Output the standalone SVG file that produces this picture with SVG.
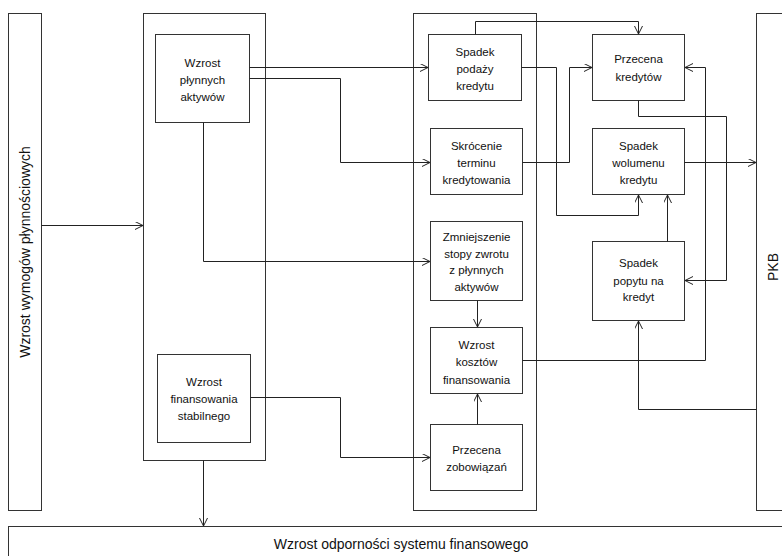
<svg xmlns="http://www.w3.org/2000/svg" width="782" height="556" viewBox="0 0 782 556">
<style>
.box{fill:#fff;stroke:#333;stroke-width:1}
.t{font-family:"Liberation Sans",Arial,sans-serif;font-size:11.5px;fill:#111;text-anchor:middle}
.big{font-family:"Liberation Sans",Arial,sans-serif;font-size:14px;fill:#111;text-anchor:middle}
.c{fill:none;stroke:#222;stroke-width:1}
</style>
<defs>
<marker id="a" markerUnits="userSpaceOnUse" markerWidth="10" markerHeight="10" refX="8" refY="4" orient="auto">
<path d="M0,0 L8,4 L0,8" fill="none" stroke="#222" stroke-width="1"/>
</marker>
</defs>
<rect width="782" height="556" fill="#fff"/>

<g id="n-wymogi"><rect class="box" x="8.5" y="13.5" width="33" height="497"/>
<text class="big" transform="translate(30,252) rotate(-90)">Wzrost wymogów płynnościowych</text></g>

<g id="n-bank"><rect class="box" x="143.5" y="13.5" width="122" height="447"/></g>
<g id="n-kanal"><rect class="box" x="413.5" y="13.5" width="123" height="497"/></g>

<g id="n-pkb"><rect class="box" x="756.5" y="13.5" width="40" height="497"/>
<text class="big" transform="translate(778,267) rotate(-90)">PKB</text></g>

<g id="n-odpornosc"><rect class="box" x="8.5" y="526.5" width="790" height="40"/>
<text class="big" x="401" y="549">Wzrost odporności systemu finansowego</text></g>

<g id="n-aktywa"><rect class="box" x="155.5" y="34.5" width="94" height="88"/>
<text class="t" x="202.5" y="67">Wzrost</text><text class="t" x="202.5" y="84">płynnych</text><text class="t" x="202.5" y="101">aktywów</text></g>

<g id="n-stabilne"><rect class="box" x="157.5" y="354.5" width="93" height="88"/>
<text class="t" x="204" y="386">Wzrost</text><text class="t" x="204" y="403">finansowania</text><text class="t" x="204" y="420">stabilnego</text></g>

<g id="n-podaz"><rect class="box" x="428.5" y="34.5" width="93" height="66"/>
<text class="t" x="475" y="56">Spadek</text><text class="t" x="475" y="73">podaży</text><text class="t" x="475" y="90">kredytu</text></g>

<g id="n-termin"><rect class="box" x="430.5" y="128.5" width="92" height="66"/>
<text class="t" x="476.5" y="150">Skrócenie</text><text class="t" x="476.5" y="167">terminu</text><text class="t" x="476.5" y="184">kredytowania</text></g>

<g id="n-stopa"><rect class="box" x="430.5" y="221.5" width="92" height="79"/>
<text class="t" x="476.5" y="241">Zmniejszenie</text><text class="t" x="476.5" y="257.5">stopy zwrotu</text><text class="t" x="476.5" y="274">z płynnych</text><text class="t" x="476.5" y="291">aktywów</text></g>

<g id="n-koszty"><rect class="box" x="430.5" y="327.5" width="92" height="66"/>
<text class="t" x="476.5" y="349">Wzrost</text><text class="t" x="476.5" y="366">kosztów</text><text class="t" x="476.5" y="383.5">finansowania</text></g>

<g id="n-zobowiazania"><rect class="box" x="430.5" y="424.5" width="92" height="66"/>
<text class="t" x="476.5" y="454">Przecena</text><text class="t" x="476.5" y="471">zobowiązań</text></g>

<g id="n-przecena"><rect class="box" x="592.5" y="34.5" width="92" height="66"/>
<text class="t" x="638.5" y="63">Przecena</text><text class="t" x="638.5" y="81">kredytów</text></g>

<g id="n-wolumen"><rect class="box" x="592.5" y="128.5" width="92" height="66"/>
<text class="t" x="638.5" y="150">Spadek</text><text class="t" x="638.5" y="167">wolumenu</text><text class="t" x="638.5" y="184">kredytu</text></g>

<g id="n-popyt"><rect class="box" x="592.5" y="241.5" width="92" height="79"/>
<text class="t" x="638.5" y="267">Spadek</text><text class="t" x="638.5" y="284.5">popytu na</text><text class="t" x="638.5" y="301">kredyt</text></g>

<g id="connectors">
<path class="c" d="M41.5,225.5 H143" marker-end="url(#a)"/>
<path class="c" d="M249.5,67.5 H428" marker-end="url(#a)"/>
<path class="c" d="M249.5,78.5 H340.5 V162.5 H430" marker-end="url(#a)"/>
<path class="c" d="M203.5,122.5 V261.5 H430" marker-end="url(#a)"/>
<path class="c" d="M250.5,397.5 H340.5 V457.5 H430" marker-end="url(#a)"/>
<path class="c" d="M203.5,460.5 V526" marker-end="url(#a)"/>
<path class="c" d="M477.5,300.5 V327" marker-end="url(#a)"/>
<path class="c" d="M477.5,424.5 V394" marker-end="url(#a)"/>
<path class="c" d="M475.5,34.5 V21.5 H638.5 V34" marker-end="url(#a)"/>
<path class="c" d="M521.5,67.5 H556.5 V215.5 H638.5 V195" marker-end="url(#a)"/>
<path class="c" d="M522.5,162.5 H569.5 V67.5 H592" marker-end="url(#a)"/>
<path class="c" d="M638.5,100.5 V116.5 H726.5 V280.5 H685" marker-end="url(#a)"/>
<path class="c" d="M684.5,162.5 H756" marker-end="url(#a)"/>
<path class="c" d="M667.5,241.5 V195" marker-end="url(#a)"/>
<path class="c" d="M522.5,360.5 H705.5 V67.5 H685" marker-end="url(#a)"/>
<path class="c" d="M756.5,409.5 H638.5 V321" marker-end="url(#a)"/>
</g>
</svg>
